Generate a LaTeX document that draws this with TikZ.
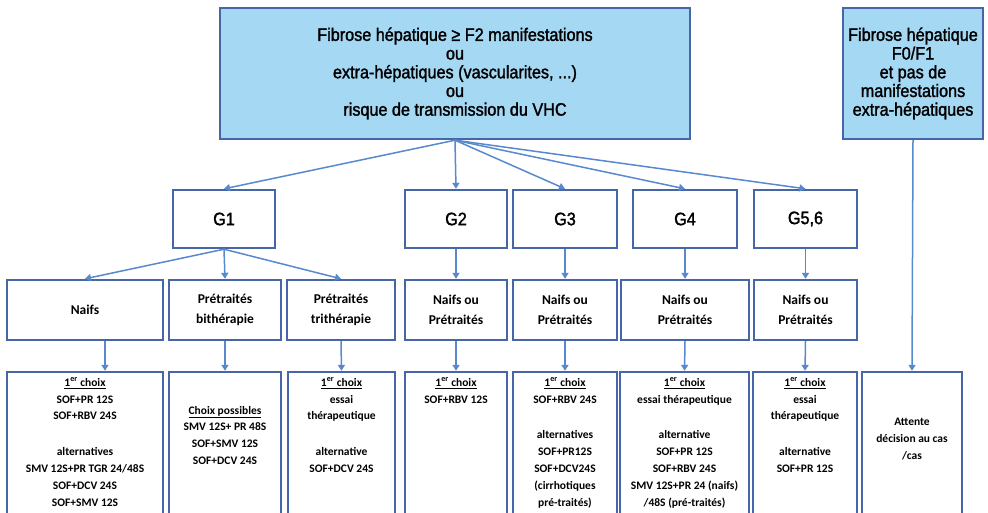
\documentclass[tikz,border=0pt]{standalone}
\usepackage{fontspec}
\setmainfont[FakeStretch=0.9,FakeBold=1.6]{Liberation Sans}
\newfontfamily\calfont{Carlito}
\usetikzlibrary{arrows.meta}
\definecolor{boxline}{RGB}{70,102,168}
\definecolor{arrline}{RGB}{88,136,206}
\definecolor{boxfill}{RGB}{165,216,243}
\begin{document}
\begin{tikzpicture}[x=1pt,y=-1pt,
	box/.style={draw=boxline,line width=2.4pt,inner sep=0pt,align=center},
	topbox/.style={box,fill=boxfill,minimum height=131pt,font=\fontsize{18}{18.7}\selectfont},
	gbox/.style={box,minimum width=102pt,minimum height=58pt,font=\fontsize{18}{18.7}\selectfont},
	subbox/.style={box,minimum height=60pt,font=\calfont\bfseries\fontsize{13.5}{20}\selectfont},
	choixbox/.style={box,minimum height=153pt},
	choixtxt/.style={anchor=north,inner sep=0pt,align=center,font=\calfont\bfseries\fontsize{11.5}{16.8}\selectfont},
	arr/.style={draw=arrline,line width=1.5pt,-{Triangle[width=7pt,length=6pt]}}]
	\useasboundingbox (0,0) rectangle (988,512);
	\node[topbox,minimum width=470pt] (fib) at (455,73.5) {Fibrose hépatique ≥ F2 manifestations\\ou\\extra-hépatiques (vascularites, ...)\\ou\\risque de transmission du VHC};
	\node[topbox,minimum width=140pt] (fibr) at (913,73.5) {Fibrose hépatique\\F0/F1\\et pas de\\manifestations\\extra-hépatiques};
	\node[gbox] (g1) at (224,219) {G1};
	\node[gbox] (g2) at (456,219) {G2};
	\node[gbox,minimum width=104pt] (g3) at (565,219) {G3};
	\node[gbox,minimum width=104pt] (g4) at (685,219) {G4};
	\node[gbox,minimum width=103pt] (g56) at (805.5,219) {G5,6};
	\node[subbox,minimum width=156pt] (naifs) at (85,310) {Naifs};
	\node[subbox,minimum width=112pt] (bith) at (225,310) {Prétraités\\bithérapie};
	\node[subbox,minimum width=108pt] (trith) at (341,310) {Prétraités\\trithérapie};
	\node[subbox,minimum width=102pt] (pt2) at (456,310) {Naifs ou\\Prétraités};
	\node[subbox,minimum width=104pt] (pt3) at (565,310) {Naifs ou\\Prétraités};
	\node[subbox,minimum width=128pt] (pt4) at (685,310) {Naifs ou\\Prétraités};
	\node[subbox,minimum width=103pt] (pt56) at (805.5,310) {Naifs ou\\Prétraités};
	\node[choixbox,minimum width=156pt] (c1) at (85,448.5) {};
	\node[choixbox,minimum width=112pt] (c2) at (225,448.5) {};
	\node[choixbox,minimum width=107pt] (c3) at (341.5,448.5) {};
	\node[choixbox,minimum width=102pt] (c4) at (456,448.5) {};
	\node[choixbox,minimum width=104pt] (c5) at (565,448.5) {};
	\node[choixbox,minimum width=129pt] (c6) at (684.5,448.5) {};
	\node[choixbox,minimum width=104pt] (c7) at (805,448.5) {};
	\node[choixbox,minimum width=100pt] (c8) at (912,448.5) {};
	\node[choixtxt] (t1) at ([yshift=-7pt]c1.north) {\underline{1\textsuperscript{er} choix}\\SOF+PR 12S\\SOF+RBV 24S\\[19pt]alternatives\\SMV 12S+PR TGR 24/48S\\SOF+DCV 24S\\SOF+SMV 12S};
	\node[choixtxt] (t2) at ([yshift=-35pt]c2.north) {\underline{Choix possibles}\\SMV 12S+ PR 48S\\SOF+SMV 12S\\SOF+DCV 24S};
	\node[choixtxt] (t3) at ([yshift=-7pt]c3.north) {\underline{1\textsuperscript{er} choix}\\essai\\thérapeutique\\[19pt]alternative\\SOF+DCV 24S};
	\node[choixtxt] (t4) at ([yshift=-7pt]c4.north) {\underline{1\textsuperscript{er} choix}\\SOF+RBV 12S};
	\node[choixtxt] (t5) at ([yshift=-7pt]c5.north) {\underline{1\textsuperscript{er} choix}\\SOF+RBV 24S\\[19pt]alternatives\\SOF+PR12S\\SOF+DCV24S\\(cirrhotiques\\pré-traités)};
	\node[choixtxt] (t6) at ([yshift=-7pt]c6.north) {\underline{1\textsuperscript{er} choix}\\essai thérapeutique\\[19pt]alternative\\SOF+PR 12S\\SOF+RBV 24S\\SMV 12S+PR 24 (naifs)\\/48S (pré-traités)};
	\node[choixtxt] (t7) at ([yshift=-7pt]c7.north) {\underline{1\textsuperscript{er} choix}\\essai\\thérapeutique\\[19pt]alternative\\SOF+PR 12S};
	\node[choixtxt] (t8) at ([yshift=-47pt]c8.north) {Attente\\décision au cas\\/cas};
	\foreach \g in {g1,g2,g3,g4,g56}
		\draw[arr] (fib.south) -- (\g.north);
	\draw[arr] (fibr.south) -- (c8.north);
	\foreach \s in {naifs,bith,trith}
		\draw[arr] (g1.south) -- (\s.north);
	\foreach \a/\b in {g2/pt2,g3/pt3,g4/pt4,g56/pt56,bith/c2,trith/c3,pt2/c4,pt3/c5,pt4/c6,pt56/c7}
		\draw[arr] (\a.south) -- (\b.north);
	\draw[arr] ([xshift=20pt]naifs.south) -- ([xshift=20pt]c1.north);
\end{tikzpicture}
\end{document}
